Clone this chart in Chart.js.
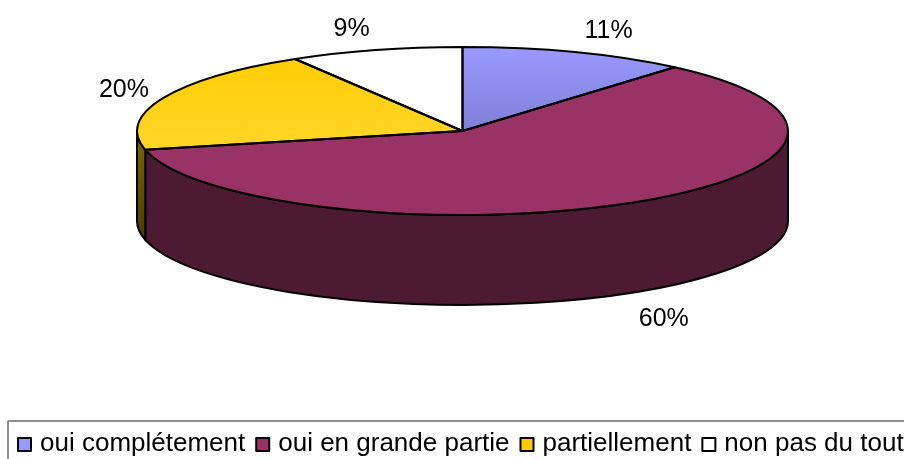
<!DOCTYPE html>
<html>
<head>
<meta charset="utf-8">
<style>
  body { margin: 0; background: #fff; }
  canvas { display: block; }
</style>
<script src="https://cdn.jsdelivr.net/npm/chart.js@4"></script>
</head>
<body>
<canvas id="myChart" width="904" height="459"></canvas>
<script>
// values (labels show them rounded)
var categories = ['oui complétement', 'oui en grande partie', 'partiellement', 'non pas du tout'];
var values = [11.3, 60.1, 20, 8.6];
var colors = ['#9999FF', '#993366', '#FFCC00', '#FFFFFF'];
var fadeColors = ['#7F7FD6', '#993366', '#FFD422', '#FFFFFF'];
var sideColors = ['#4D4D80', '#4D1A33', '#806600', '#808080'];
var sideFadeColors = ['#4D4D80', '#4D1A33', '#4D3D00', '#808080'];

// the tilted disc on the page
var discX = 462.5, discY = 131, discRx = 325.5, discRy = 84, discDepth = 90;
var labelFont = '25px "Liberation Sans"';
var legendFont = '26px "Liberation Sans"';
// distance of each % label from the rim of the disc
var labelNudge = [[33, -21], [33, 116], [-39, -8], [-24, -21]];

function sliceFill(context) {
    var chart = context.chart;
    if (!chart.chartArea) {
        return colors[context.dataIndex];
    }
    // slices fade a bit towards the centre, coords are before the squash
    var g = chart.ctx.createLinearGradient(0, 0, 0, chart.height / 2);
    g.addColorStop(0, colors[context.dataIndex]);
    g.addColorStop(1, fadeColors[context.dataIndex]);
    return g;
}

var pie3d = {
    id: 'pie3d',
    beforeDatasetsDraw: function (chart) {
        var c = chart.ctx;
        var arcs = chart.getDatasetMeta(0).data;

        // side wall, only the part of the rim facing us
        arcs.forEach(function (arc, i) {
            var a0 = Math.max(arc.startAngle, 0);
            var a1 = Math.min(arc.endAngle, Math.PI);
            if (a1 <= a0) return;
            var g = c.createLinearGradient(0, discY, 0, discY + discRy + discDepth);
            g.addColorStop(0, sideColors[i]);
            g.addColorStop(0.6, sideFadeColors[i]);
            c.save();
            c.beginPath();
            c.ellipse(discX, discY, discRx, discRy, 0, a0, a1);
            c.ellipse(discX, discY + discDepth, discRx, discRy, 0, a1, a0, true);
            c.closePath();
            c.fillStyle = g;
            c.fill();
            c.lineWidth = 2;
            c.strokeStyle = '#000';
            c.stroke();
            c.restore();
        });

        // squash the round pie into the disc while the library fills it
        var first = arcs[0];
        c.save();
        c.translate(discX, discY);
        c.scale(discRx / first.outerRadius, discRy / first.outerRadius);
        c.translate(-first.x, -first.y);
    },
    afterDatasetsDraw: function (chart) {
        var c = chart.ctx;
        c.restore();

        var arcs = chart.getDatasetMeta(0).data;
        arcs.forEach(function (arc, i) {
            c.beginPath();
            c.moveTo(discX, discY);
            c.ellipse(discX, discY, discRx, discRy, 0, arc.startAngle, arc.endAngle);
            c.closePath();
            c.lineWidth = 2;
            c.lineJoin = 'round';
            c.strokeStyle = '#000';
            c.stroke();

            // % labels
            var mid = (arc.startAngle + arc.endAngle) / 2;
            c.font = labelFont;
            c.fillStyle = '#000';
            c.textAlign = 'center';
            c.textBaseline = 'middle';
            c.fillText(Math.round(values[i]) + '%',
                discX + discRx * Math.cos(mid) + labelNudge[i][0],
                discY + discRy * Math.sin(mid) + labelNudge[i][1]);
        });

        drawLegend(c);
    }
};

function drawLegend(c) {
    // frame runs off the right and bottom of the picture
    c.lineWidth = 1.5;
    c.strokeStyle = '#6E6E6E';
    c.strokeRect(8, 421, 1000, 100);

    var x = 18;
    c.font = legendFont;
    c.textAlign = 'left';
    c.textBaseline = 'alphabetic';
    categories.forEach(function (name, i) {
        c.fillStyle = colors[i];
        c.fillRect(x, 438, 13, 13);
        c.lineWidth = 2;
        c.strokeStyle = '#000';
        c.strokeRect(x, 438, 13, 13);
        c.fillStyle = '#000';
        c.fillText(name, x + 22, 451);
        x += 22 + c.measureText(name).width + 11;
    });
}

var myChart = new Chart(document.getElementById('myChart'), {
    type: 'pie',
    data: {
        labels: categories,
        datasets: [{
            data: values,
            backgroundColor: sliceFill,
            borderWidth: 0
        }]
    },
    options: {
        responsive: false,
        animation: false,
        plugins: {
            legend: { display: false },
            tooltip: { enabled: false }
        }
    },
    plugins: [pie3d]
});
</script>
</body>
</html>
